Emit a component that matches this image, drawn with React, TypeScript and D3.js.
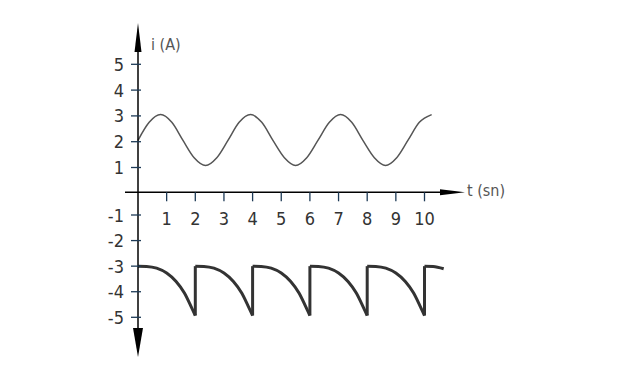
import React from 'react';
import * as d3 from 'd3';

const xTicks = [1, 2, 3, 4, 5, 6, 7, 8, 9, 10];
const yTicks = [-5, -4, -3, -2, -1, 1, 2, 3, 4, 5];

// Sinusoidal current i(t)
const sineT = [0, 0.39, 0.79, 1.18, 1.57, 1.96, 2.36, 2.75, 3.14, 3.53, 3.93, 4.32, 4.71, 5.11, 5.5, 5.89, 6.28, 6.68, 7.07, 7.46, 7.85, 8.25, 8.64, 9.03, 9.42, 9.82, 10.25];
const sineI = [2.05, 2.75, 3.05, 2.75, 2.05, 1.38, 1.08, 1.38, 2.05, 2.75, 3.05, 2.75, 2.05, 1.38, 1.08, 1.38, 2.05, 2.75, 3.05, 2.75, 2.05, 1.38, 1.08, 1.38, 2.05, 2.75, 3.05];

// Sawtooth-like current (repeated t = vertical jump)
const sawT = [
  0, 0.3, 0.65, 1.0, 1.33, 1.62, 1.85, 2.0,
  2.0, 2.3, 2.65, 3.0, 3.33, 3.62, 3.85, 4.0,
  4.0, 4.3, 4.65, 5.0, 5.33, 5.62, 5.85, 6.0,
  6.0, 6.3, 6.65, 7.0, 7.33, 7.62, 7.85, 8.0,
  8.0, 8.3, 8.65, 9.0, 9.33, 9.62, 9.85, 10.0,
  10.0, 10.3, 10.67,
];
const sawI = [
  -3, -3.01, -3.08, -3.27, -3.6, -4.05, -4.57, -4.93,
  -3, -3.01, -3.08, -3.27, -3.6, -4.05, -4.57, -4.93,
  -3, -3.01, -3.08, -3.27, -3.6, -4.05, -4.57, -4.93,
  -3, -3.01, -3.08, -3.27, -3.6, -4.05, -4.57, -4.93,
  -3, -3.01, -3.08, -3.27, -3.6, -4.05, -4.57, -4.93,
  -3, -3.01, -3.1,
];

const FONT = '"DejaVu Sans Condensed", "DejaVu Sans", Verdana, sans-serif';

export default function App() {
  const W = 639;
  const H = 375;
  const x = d3.scaleLinear().domain([0, 10]).range([138, 424.5]);
  const y = d3.scaleLinear().domain([-5, -1, 0, 1, 5]).range([317.3, 215, 192.3, 167.5, 64.3]);

  const x0 = x(0);
  const y0 = y(0);

  const sinePts: [number, number][] = sineT.map((t, i) => [t, sineI[i]]);
  const smoothLine = d3
    .line<[number, number]>()
    .x((d) => x(d[0]))
    .y((d) => y(d[1]))
    .curve(d3.curveMonotoneX);

  // split sawtooth into smooth segments and vertical jumps
  const segs: [number, number][][] = [];
  const jumps: [number, number][][] = [];
  let cur: [number, number][] = [];
  sawT.forEach((t, i) => {
    if (i > 0 && t === sawT[i - 1]) {
      segs.push(cur);
      jumps.push([[t, sawI[i - 1]], [t, sawI[i]]]);
      cur = [];
    }
    cur.push([t, sawI[i]]);
  });
  segs.push(cur);
  const linearLine = d3
    .line<[number, number]>()
    .x((d) => x(d[0]))
    .y((d) => y(d[1]));

  const tickColor = '#1d3a56';
  const textColor = '#333';

  return (
    <svg
      width={W}
      height={H}
      style={{ position: 'absolute', left: 0, top: 0, background: '#fff' }}
    >
      {/* sine */}
      <path d={smoothLine(sinePts) || ''} fill="none" stroke="#555" strokeWidth={1.5} />

      {/* sawtooth */}
      {segs.map((s, i) => (
        <path key={'s' + i} d={smoothLine(s) || ''} fill="none" stroke="#333" strokeWidth={3} />
      ))}
      {jumps.map((j, i) => (
        <path key={'j' + i} d={linearLine(j) || ''} fill="none" stroke="#333" strokeWidth={3} strokeLinecap="butt" />
      ))}

      {/* axes */}
      <line x1={125} y1={y0} x2={445} y2={y0} stroke="#000" strokeWidth={1.5} />
      <polygon points={`465,${y0} 440,${y0 - 3} 440,${y0 + 3}`} fill="#000" />
      <line x1={x0} y1={45} x2={x0} y2={335} stroke="#000" strokeWidth={1.5} />
      <polygon points={`${x0},23 ${x0 - 3.5},52 ${x0 + 3.5},52`} fill="#000" />
      <polygon points={`${x0},357 ${x0 - 5},328 ${x0 + 5},328`} fill="#000" />

      {/* x ticks */}
      {xTicks.map((t) => (
        <g key={'xt' + t}>
          <line x1={x(t)} y1={y0} x2={x(t)} y2={y0 + 9} stroke={tickColor} strokeWidth={1.3} />
          <text
            x={x(t)}
            y={225}
            textAnchor="middle"
            fontFamily={FONT}
            fontSize={18}
            fill={textColor}
          >
            {t}
          </text>
        </g>
      ))}

      {/* y ticks */}
      {yTicks.map((v) => (
        <g key={'yt' + v}>
          <line x1={x0 - 7} y1={y(v)} x2={x0 + 3} y2={y(v)} stroke={tickColor} strokeWidth={1.3} />
          <text
            x={124}
            y={y(v) + 6.5}
            textAnchor="end"
            fontFamily={FONT}
            fontSize={18}
            fill={textColor}
          >
            {v < 0 ? '-' + Math.abs(v) : String(v)}
          </text>
        </g>
      ))}

      {/* axis labels */}
      <text x={151} y={50} fontFamily={FONT} fontSize={16} fill="#555">
        i (A)
      </text>
      <text x={467} y={196} fontFamily={FONT} fontSize={16} fill="#555">
        t (sn)
      </text>
    </svg>
  );
}
